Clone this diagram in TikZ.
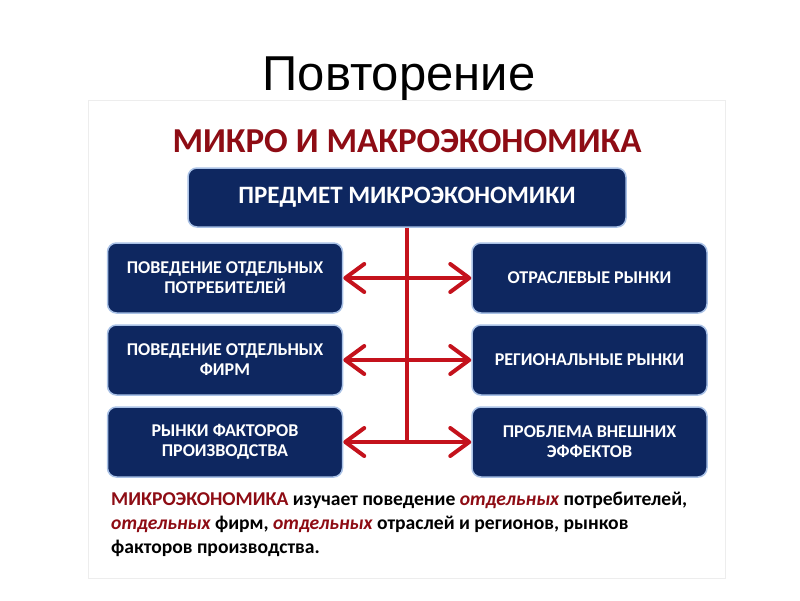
\documentclass[tikz,border=0pt]{standalone}
\usepackage{fontspec}
\setmainfont{Carlito}
\newfontfamily\titlefont{Liberation Sans}
\usetikzlibrary{arrows.meta,positioning}
\definecolor{navy}{HTML}{0E2760}
\definecolor{edge}{HTML}{A9C1E6}
\definecolor{arrowred}{HTML}{C4121C}
\definecolor{darkred}{HTML}{8E0C14}

\begin{document}
\begin{tikzpicture}[
  x=1pt,y=-1pt,
  box/.style={draw=edge,line width=1.5pt,fill=navy,rounded corners=9pt,text=white,align=center,
    minimum width=#1,minimum height=70pt,font=\bfseries\fontsize{18}{20}\selectfont},
  box/.default=235pt,
  link/.style={arrowred,line width=4pt},
  dbl/.style={link,arrows={Straight Barb[length=19pt,width=28pt,round]-Straight Barb[length=19pt,width=28pt,round]}},
]
  \fill[white] (0,0) rectangle (800,600);
  \useasboundingbox (0,0) rectangle (800,600);
  \node[font=\titlefont\fontsize{49}{50}\selectfont,anchor=base] (title) at (399,90) {Повторение};
  \draw[black!7,fill=white] (88,100) rectangle (725,578);

  \node[font=\bfseries\fontsize{35}{36}\selectfont,text=darkred,anchor=base] (head) at (407,152) {МИКРО И МАКРОЭКОНОМИКА};
  \node[box=438pt,minimum height=59pt,font=\bfseries\fontsize{25}{26}\selectfont] (top) at (407,197.5) {ПРЕДМЕТ МИКРОЭКОНОМИКИ};

  \node[box] (l1) at (225,278) {ПОВЕДЕНИЕ ОТДЕЛЬНЫХ\\ПОТРЕБИТЕЛЕЙ};
  \node[box] (l2) at (225,360) {ПОВЕДЕНИЕ ОТДЕЛЬНЫХ\\ФИРМ};
  \node[box] (l3) at (225,442) {РЫНКИ ФАКТОРОВ\\ПРОИЗВОДСТВА};
  \node[box] (r1) at (589.5,278) {ОТРАСЛЕВЫЕ РЫНКИ};
  \node[box] (r2) at (589.5,360) {РЕГИОНАЛЬНЫЕ РЫНКИ};
  \node[box] (r3) at (589.5,442) {ПРОБЛЕМА ВНЕШНИХ\\ЭФФЕКТОВ};

  \draw[link] (top.south) -- (top.south |- l3.east);
  \draw[dbl] (l1) -- (r1);
  \draw[dbl] (l2) -- (r2);
  \draw[dbl] (l3) -- (r3);

  \node[anchor=north west,align=left,inner sep=0pt,font=\bfseries\fontsize{19.6}{24}\selectfont] (note) at (111,492)
    {\textcolor{darkred}{МИКРОЭКОНОМИКА} изучает поведение \textcolor{darkred}{\itshape отдельных} потребителей,\\
     \textcolor{darkred}{\itshape отдельных} фирм, \textcolor{darkred}{\itshape отдельных} отраслей и регионов, рынков\\
     факторов производства.};
\end{tikzpicture}
\end{document}
